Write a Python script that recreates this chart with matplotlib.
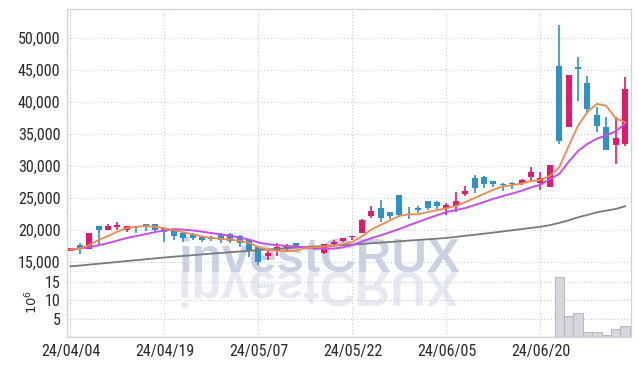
import matplotlib
matplotlib.use("Agg")
import matplotlib.pyplot as plt
from matplotlib import font_manager
from matplotlib.textpath import TextPath
from matplotlib.patches import PathPatch
from matplotlib.transforms import Affine2D
from matplotlib.ticker import FuncFormatter

# trading days (24/04/04 .. 24/07/03)
dates = ['24/04/04', '24/04/05', '24/04/08', '24/04/09', '24/04/11', '24/04/12', '24/04/15', '24/04/16',
         '24/04/17', '24/04/18', '24/04/19', '24/04/22', '24/04/23', '24/04/24', '24/04/25', '24/04/26',
         '24/04/29', '24/04/30', '24/05/02', '24/05/03', '24/05/07', '24/05/08', '24/05/09', '24/05/10',
         '24/05/13', '24/05/14', '24/05/16', '24/05/17', '24/05/20', '24/05/21', '24/05/22', '24/05/23',
         '24/05/24', '24/05/27', '24/05/28', '24/05/29', '24/05/30', '24/05/31', '24/06/03', '24/06/04',
         '24/06/05', '24/06/07', '24/06/10', '24/06/11', '24/06/12', '24/06/13', '24/06/14', '24/06/17',
         '24/06/18', '24/06/19', '24/06/20', '24/06/21', '24/06/24', '24/06/25', '24/06/26', '24/06/27',
         '24/06/28', '24/07/01', '24/07/02', '24/07/03']

opens = [16800, 17650, 17150, 20650, 20100, 20550, 20100, 20550, 20950, 20950,
         20400, 20050, 19600, 19450, 18950, 19000, 19450, 19400, 19050, 18450,
         17450, 16000, 16950, 17200, 17950, 17350, 17250, 16400, 17850, 18250,
         18950, 19550, 22250, 23450, 22850, 25500, 22900, 23550, 24600, 24450,
         23550, 23850, 25700, 28200, 28400, 27700, 27300, 27450, 27350, 28250,
         27450, 26800, 45700, 36200, 45450, 43000, 38000, 36200, 33400, 33500]
highs = [17300, 17950, 19600, 20700, 20950, 21250, 20650, 20600, 21000, 21000,
         20500, 20200, 19700, 19600, 19050, 19100, 19500, 19500, 19200, 18550,
         17500, 16900, 17950, 17850, 18000, 17400, 17350, 17900, 18450, 18800,
         19050, 21700, 23800, 24750, 22900, 25550, 23600, 23800, 24650, 24500,
         24250, 26050, 26950, 28650, 28450, 27750, 27350, 27500, 27950, 29950,
         29150, 30250, 52100, 44300, 47050, 44050, 39200, 37650, 37650, 43900]
lows = [16700, 16300, 17100, 17700, 20000, 20100, 19800, 19550, 19900, 19550,
        18200, 18450, 18200, 18450, 18200, 18250, 17950, 17950, 17450, 15900,
        14600, 15350, 16000, 16650, 17300, 17250, 16950, 16350, 17450, 18200,
        18450, 19500, 21900, 21350, 21700, 22100, 21750, 22750, 23200, 23300,
        22400, 22900, 25400, 25800, 26550, 26800, 26150, 26400, 27000, 27600,
        26300, 26750, 33500, 36100, 40250, 38450, 35300, 32500, 30350, 33100]
closes = [17250, 17100, 19550, 20100, 20600, 20800, 20600, 20450, 20600, 20100,
          19800, 19150, 18850, 18850, 18550, 18600, 18500, 18250, 17950, 16950,
          15100, 16500, 17450, 17600, 17350, 17300, 17150, 17850, 18100, 18750,
          19050, 21600, 23000, 21950, 22250, 22400, 22800, 23150, 23550, 23800,
          23950, 24600, 26200, 26650, 27200, 27200, 27050, 27250, 27850, 29100,
          28100, 30200, 34000, 44250, 45200, 38950, 36350, 32600, 34400, 42100]

ma_short = [17000, 17150, 17700, 18500, 19100, 19800, 20350, 20550, 20650, 20550,
            20300, 20000, 19700, 19350, 19050, 18800, 18650, 18550, 18350, 18050,
            17350, 16950, 16800, 16750, 16800, 17250, 17350, 17450, 17550, 17850,
            18200, 19050, 20100, 20850, 21550, 22250, 22500, 22500, 22850, 23150,
            23450, 23800, 24400, 25050, 25700, 26350, 26850, 27050, 27300, 27700,
            27850, 28500, 29850, 33150, 36350, 38500, 39750, 39450, 37500, 36900]
ma_mid = [17000, 17150, 17350, 17650, 18000, 18400, 18800, 19100, 19400, 19720,
          19970, 20180, 20100, 19980, 19780, 19560, 19350, 19130, 18860, 18550,
          18080, 17810, 17670, 17550, 17430, 17300, 17160, 17120, 17140, 17320,
          17710, 18220, 18780, 19210, 19700, 20210, 20780, 21300, 21850, 22350,
          22850, 23150, 23470, 23940, 24430, 24910, 25340, 25750, 26180, 26700,
          27120, 28000, 28800, 30700, 32400, 33500, 34300, 34850, 35450, 36650]
ma_long_idx = [0, 5, 10, 15, 20, 25, 30, 35, 40, 45, 50, 51, 52, 53, 54, 55, 56, 57, 58, 59]
ma_long = [14350, 15050, 15750, 16350, 16900, 17400, 17750, 18280, 18800, 19640,
           20550, 20800, 21150, 21560, 22030, 22400, 22810, 23070, 23330, 23750]

# volume in millions, only the last days show up
volume = [0, 0, 0, 0, 0, 0, 0, 0, 0, 0, 0, 0, 0, 0, 0, 0, 0, 0, 0, 0,
          0, 0, 0, 0, 0, 0, 0, 0, 0, 0, 0, 0, 0, 0, 0, 0, 0, 0, 0, 0,
          0, 0, 0, 0, 0, 0, 0, 0, 0, 0, 0, 0, 16.3, 5.8, 6.5, 1.4, 1.4, 0.63, 2.2, 3.1]

UP = '#e2196c'
DOWN = '#2e92c8'
GRID = '#c3c9da'
SPINE = '#cfd2dc'
TXT = '#2a2a2a'

# a narrow face for the tick labels if one is installed
tick_font = {'family': 'Liberation Sans', 'stretch': 'normal'}
for f in font_manager.fontManager.ttflist:
    if f.name in ('Liberation Sans Narrow', 'Roboto Condensed', 'Open Sans Condensed'):
        tick_font = {'family': f.name, 'stretch': 'normal'}
        break
    if f.name == 'DejaVu Sans' and 'condensed' in str(f.stretch):
        tick_font = {'family': 'DejaVu Sans', 'stretch': 'condensed'}
narrow = tick_font['family'] != 'Liberation Sans'
tick_size = 11.5 if narrow else 10.5

W, H = 639, 366
left, right, top, mid, bottom = 66.7, 630.7, 9.3, 272, 337.3
fig = plt.figure(figsize=(W / 100, H / 100), dpi=100)
ax = fig.add_axes([left / W, 1 - mid / H, (right - left) / W, (mid - top) / H])
axv = fig.add_axes([left / W, 1 - bottom / H, (right - left) / W, (bottom - mid) / H], sharex=ax)

x = list(range(len(dates)))
body_w = 0.64
for i in x:
    o, h, l, c = opens[i], highs[i], lows[i], closes[i]
    col = UP if c >= o else DOWN
    ax.vlines(i, l, h, color=col, linewidth=1.2, zorder=2)
    b = min(o, c)
    hgt = max(abs(c - o), 120)
    ax.bar(i, hgt, bottom=b - (hgt - abs(c - o)) / 2, width=body_w, color=col, linewidth=0, zorder=2.5)

ax.plot(ma_long_idx, ma_long, color='#7a7a7a', linewidth=1.3, zorder=3)
ax.plot(x, ma_mid, color='#c64ee6', linewidth=1.4, zorder=3.2)
ax.plot(x, ma_short, color='#ee8a4e', linewidth=1.3, zorder=3.4)

axv.bar(x, volume, width=1.0, color='#d6d6dc', edgecolor='#b9b9c2', linewidth=0.8, zorder=2)

ax.set_xlim(-0.4, 59.6)
ax.set_ylim(13480, 54530)
axv.set_ylim(0, 17.7)

ax.set_yticks(range(15000, 50001, 5000))
ax.yaxis.set_major_formatter(FuncFormatter(lambda v, p: f'{v:,.0f}'))
axv.set_yticks([5, 10, 15])
tick_pos = x[::10]
axv.set_xticks(tick_pos)
axv.set_xticklabels([dates[i] for i in tick_pos])
ax.tick_params(axis='x', labelbottom=False, length=0)

for a in (ax, axv):
    a.grid(True, color=GRID, linestyle=(0, (1, 2)), linewidth=0.8)
    a.set_axisbelow(True)
    a.tick_params(length=0, labelsize=tick_size, labelcolor=TXT, pad=4.5)
    for lab in a.get_xticklabels() + a.get_yticklabels():
        lab.set_fontfamily(tick_font['family'])
        lab.set_fontstretch(tick_font['stretch'])
    for s in a.spines.values():
        s.set_color(SPINE)
        s.set_linewidth(0.9)
ax.spines['bottom'].set_color('#b8bcc8')
axv.spines['top'].set_visible(False)

axv.text(-0.061, 0.55, '$10^6$', transform=axv.transAxes, rotation=90, fontsize=9.5,
         color=TXT, ha='center', va='center')

# watermark and its mirror
wm_x, wm_base = 178, H - mid
ax.text(wm_x / W, wm_base / H, 'investCRUX', transform=fig.transFigure, fontsize=35.5,
        fontweight='bold', family='Liberation Sans', color='#cbd1e3', ha='left',
        va='baseline', zorder=0.5, clip_on=False)
tp = TextPath((0, 0), 'investCRUX', size=49,
              prop=font_manager.FontProperties(family='Liberation Sans', weight='bold'))
mirror = PathPatch(tp, facecolor='#e7e9f2', edgecolor='none', zorder=0.5,
                   transform=Affine2D().scale(1, -1).translate(wm_x, wm_base))
axv.add_patch(mirror)

fig.savefig('out.png', dpi=100)
